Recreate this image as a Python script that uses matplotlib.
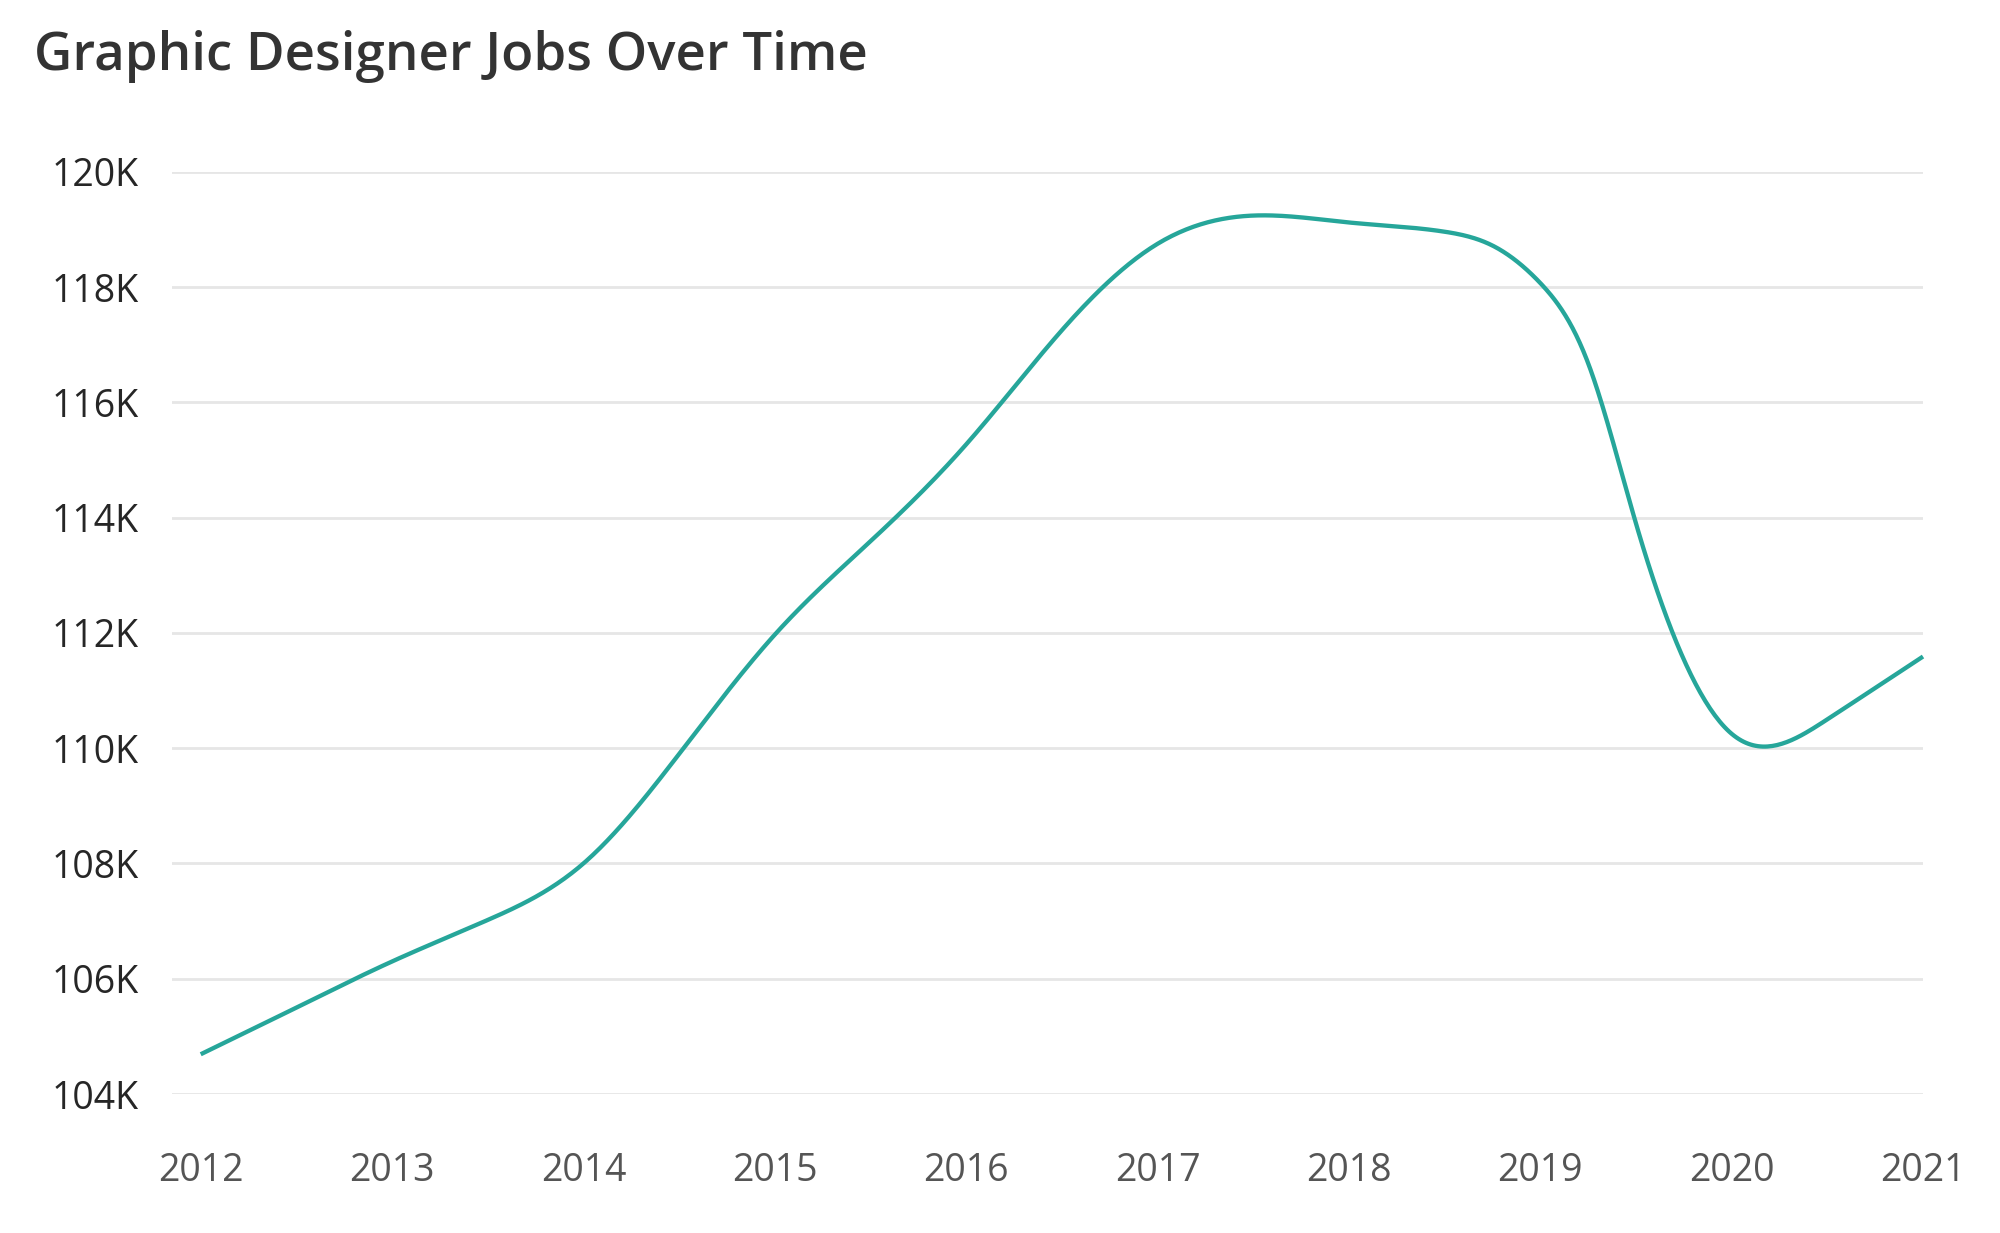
import matplotlib
matplotlib.use("Agg")
import matplotlib.pyplot as plt
import numpy as np

# values (thousands of jobs), half-yearly plus a few extra near the 2019 drop
dates = [2012.0, 2012.5, 2013.0, 2013.5, 2014.0, 2014.5, 2015.0, 2015.5, 2016.0, 2016.5,
         2017.0, 2017.5, 2018.0, 2018.5, 2018.75, 2019.0, 2019.25, 2019.5, 2020.0, 2020.5, 2021.0]
jobs = [104.69, 105.5, 106.3, 107.02, 108.0, 109.9, 111.97, 113.59, 115.27, 117.25,
        118.75, 119.24, 119.12, 118.96, 118.72, 118.07, 116.68, 113.9, 110.25, 110.5, 111.59]
years = [2012, 2013, 2014, 2015, 2016, 2017, 2018, 2019, 2020, 2021]
yticks = [104, 106, 108, 110, 112, 114, 116, 118, 120]

line_color = "#26a69a"
plt.rcParams['font.family'] = ['Open Sans', 'DejaVu Sans']


def natural_spline(x, y, n=40):
    # smooth curve through the points, like the original chart's line
    x = np.asarray(x, float)
    y = np.asarray(y, float)
    k = len(x)
    h = np.diff(x)
    A = np.zeros((k, k))
    b = np.zeros(k)
    A[0, 0] = 1
    A[-1, -1] = 1
    for i in range(1, k - 1):
        A[i, i - 1] = h[i - 1]
        A[i, i] = 2 * (h[i - 1] + h[i])
        A[i, i + 1] = h[i]
        b[i] = 6 * ((y[i + 1] - y[i]) / h[i] - (y[i] - y[i - 1]) / h[i - 1])
    M = np.linalg.solve(A, b)
    xs, ys = [], []
    for i in range(k - 1):
        t = np.linspace(x[i], x[i + 1], n, endpoint=(i == k - 2))
        a = x[i + 1] - t
        c = t - x[i]
        s = (M[i] * a**3 + M[i + 1] * c**3) / (6 * h[i]) \
            + (y[i] / h[i] - M[i] * h[i] / 6) * a \
            + (y[i + 1] / h[i] - M[i + 1] * h[i] / 6) * c
        xs.append(t)
        ys.append(s)
    return np.concatenate(xs), np.concatenate(ys)


fig = plt.figure(figsize=(20, 12.33), dpi=100)
ax = fig.add_axes([0.086, 0.1127, 0.8755, 0.748])

sx, sy = natural_spline(dates, jobs)
ax.plot(sx, sy, color=line_color, lw=3.1, solid_capstyle='butt', clip_on=False, zorder=3)

ax.set_xlim(2011.85, 2021)
ax.set_ylim(104, 120)
ax.set_yticks(yticks)
ax.set_yticklabels([f"{v}K" for v in yticks])
ax.set_xticks(years)
ax.set_xticklabels([str(y) for y in years])

ax.grid(axis='y', color='#e6e6e6', lw=2)
ax.set_axisbelow(True)
for s in ax.spines.values():
    s.set_visible(False)
ax.tick_params(axis='both', length=0)
ax.tick_params(axis='y', labelsize=27, labelcolor='#262626', pad=24)
ax.tick_params(axis='x', labelsize=27, labelcolor='#555555', pad=42)

fig.text(0.017, 0.943, "Graphic Designer Jobs Over Time", fontsize=38,
         fontweight='semibold', color='#333333', va='baseline', ha='left')

fig.savefig("out.png", dpi=100, facecolor='white')
